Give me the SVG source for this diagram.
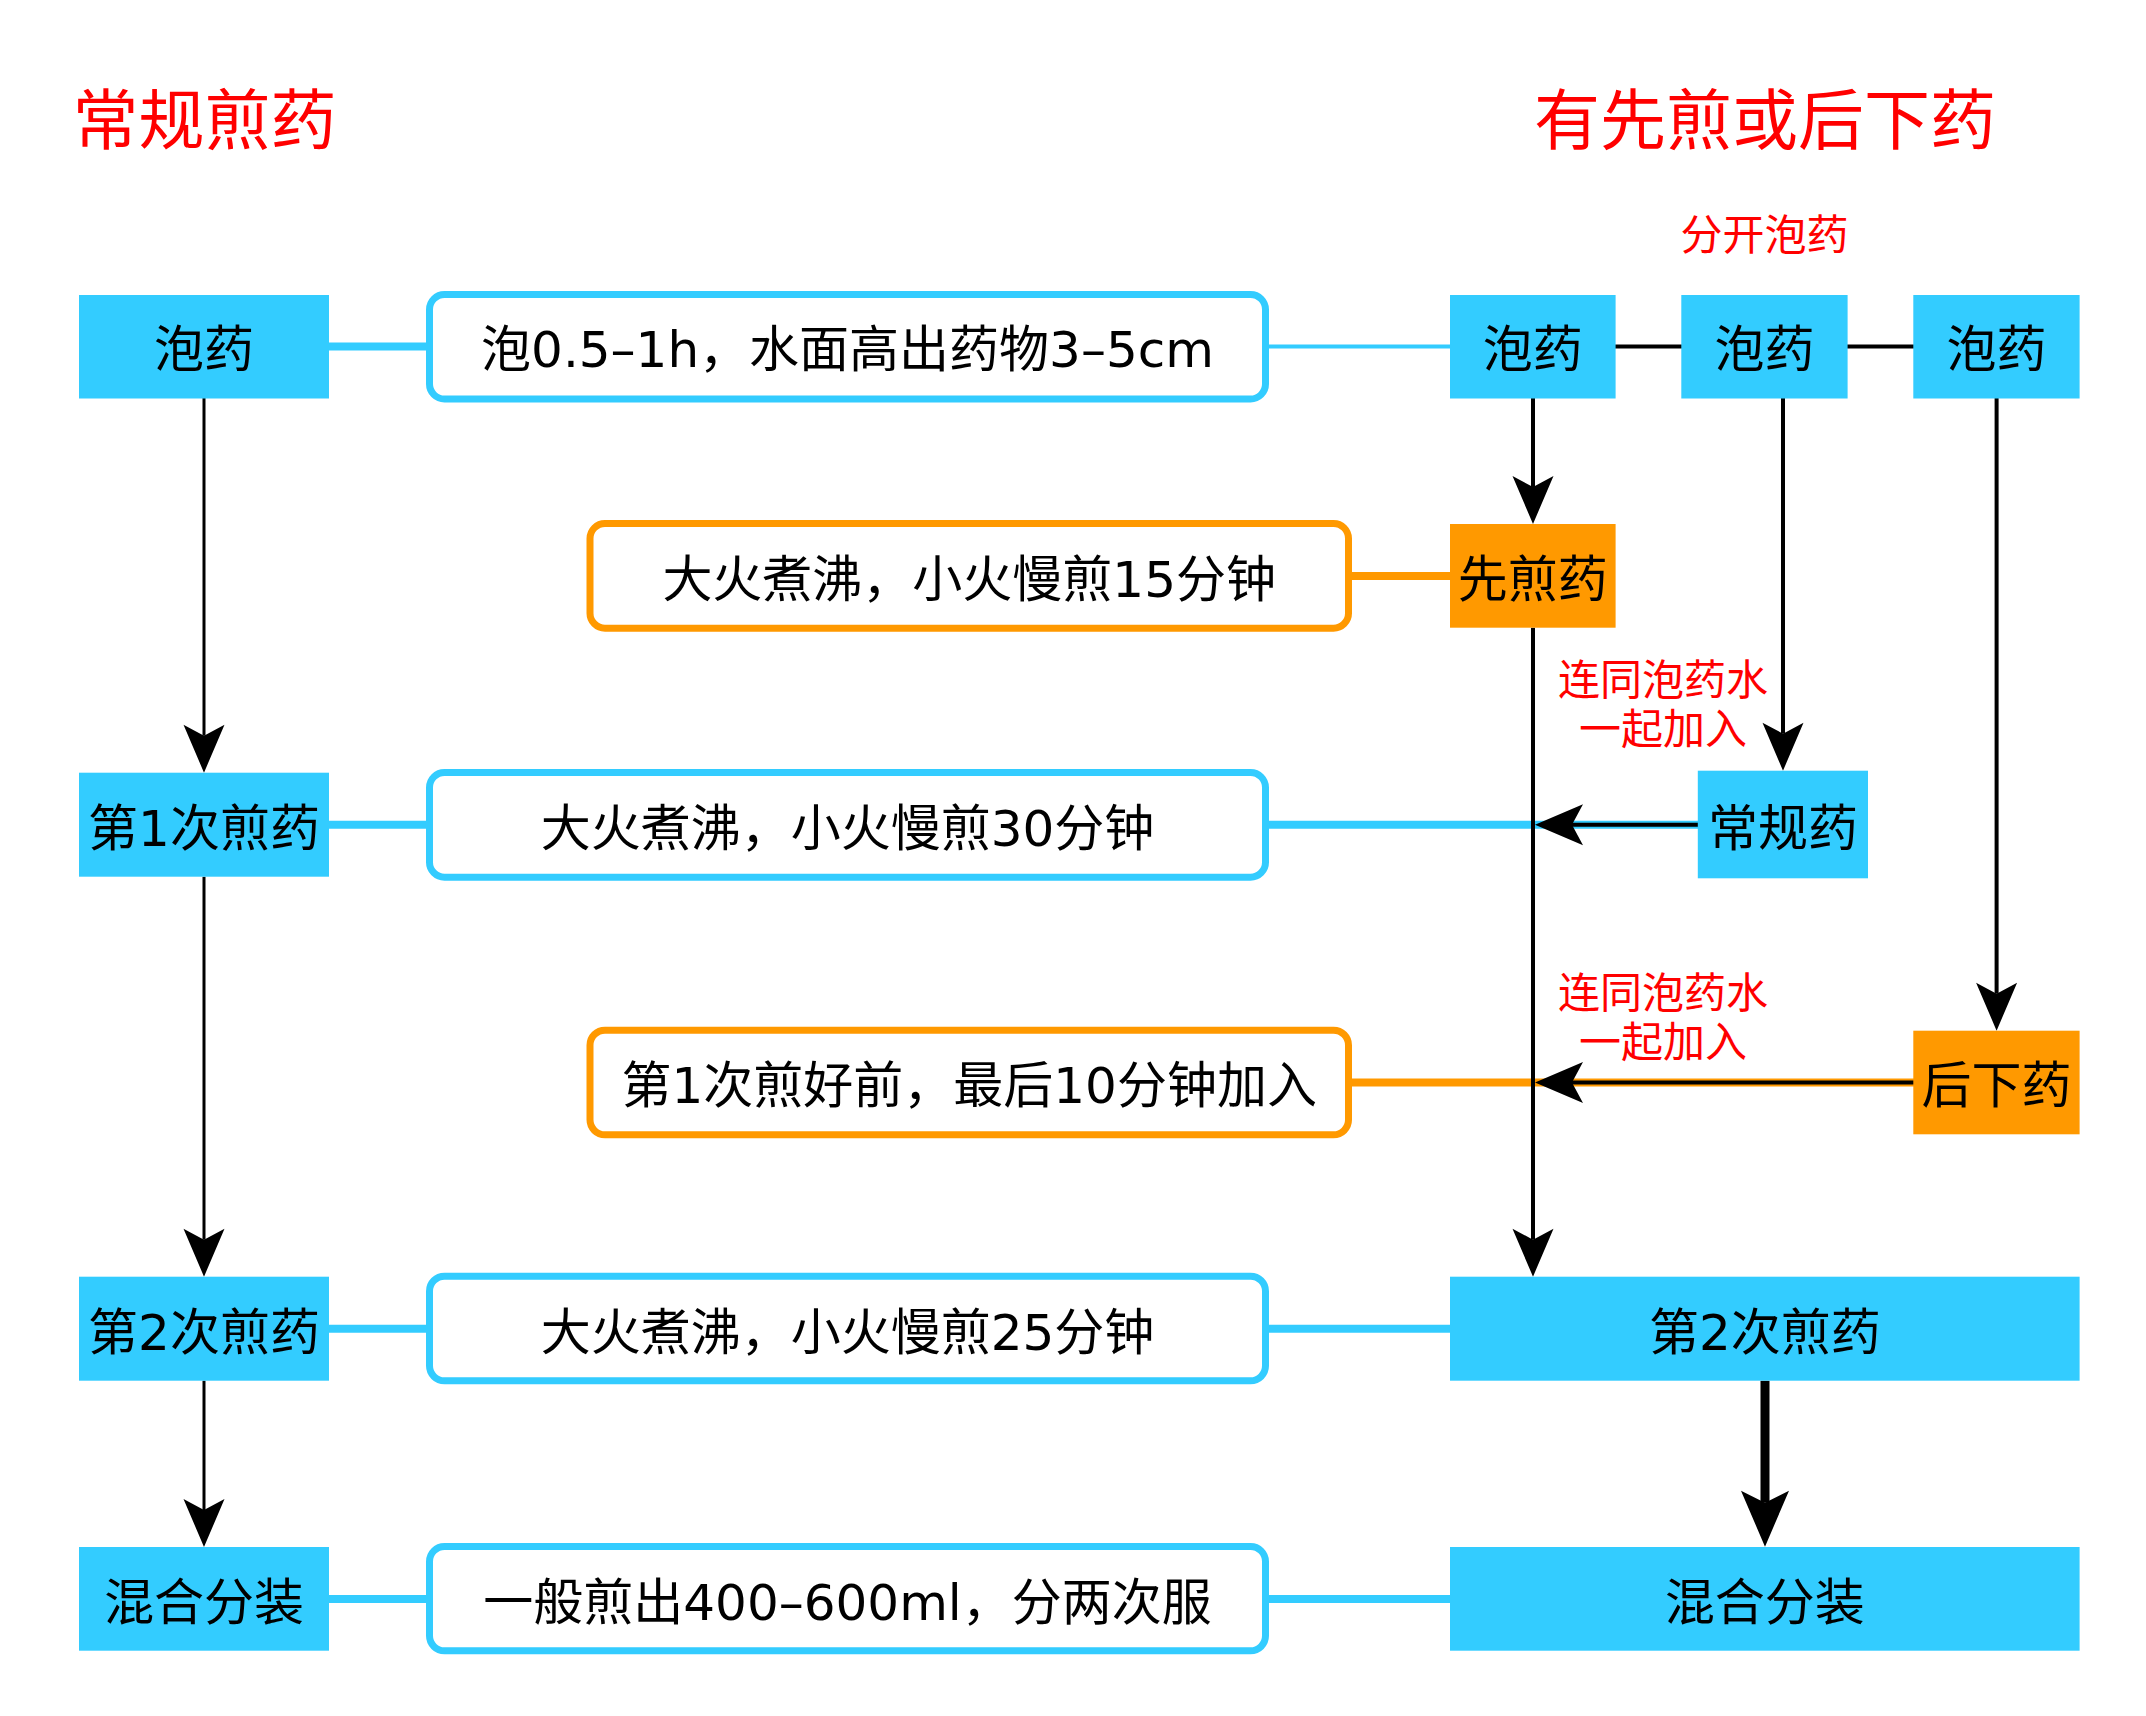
<svg xmlns="http://www.w3.org/2000/svg" width="2146" height="1716" viewBox="0 0 2146 1716">
<defs>
<style>
.bb{fill:#33CCFF}
.bo{fill:#FF9900}
.tb{fill:#FFFFFF;stroke:#33CCFF;stroke-width:7}
.to{fill:#FFFFFF;stroke:#FF9900;stroke-width:7}
.t{font-family:'DejaVu Sans','Noto Sans CJK SC',sans-serif;font-size:50px;fill:#000000;text-anchor:middle}
.title{font-family:'DejaVu Sans','Noto Sans CJK SC',sans-serif;font-size:66px;fill:#FF0000;text-anchor:middle}
.note{font-family:'DejaVu Sans','Noto Sans CJK SC',sans-serif;font-size:42px;fill:#FF0000;text-anchor:middle}
.cb{stroke:#33CCFF;stroke-width:8;fill:none}
.cbt{stroke:#33CCFF;stroke-width:4;fill:none}
.co{stroke:#FF9900;stroke-width:8;fill:none}
.k3{stroke:#000000;stroke-width:3;fill:none}
.k4{stroke:#000000;stroke-width:4;fill:none}
.k9{stroke:#000000;stroke-width:9;fill:none}
</style>
<marker id="arr" markerUnits="userSpaceOnUse" viewBox="-14 -23 54 46" markerWidth="54" markerHeight="46" refX="0" refY="0" orient="auto">
<path d="M37,0 L-11,-20.5 L0,0 L-11,20.5 Z" fill="#000000"/>
</marker>
<marker id="arrBig" markerUnits="userSpaceOnUse" viewBox="-14 -26 60 52" markerWidth="60" markerHeight="52" refX="0" refY="0" orient="auto">
<path d="M44,0 L-12,-24 L0,0 L-12,24 Z" fill="#000000"/>
</marker>
</defs>
<rect x="0" y="0" width="2146" height="1716" fill="#FFFFFF"/>

<g id="titles">
<text class="title" x="204.5" y="144.4">常规煎药</text>
<text class="title" x="1765" y="144.4">有先煎或后下药</text>
<text class="note" x="1764.5" y="249.6">分开泡药</text>
<text class="note" x="1663" y="695">连同泡药水</text>
<text class="note" x="1663" y="743.7">一起加入</text>
<text class="note" x="1663" y="1008.2">连同泡药水</text>
<text class="note" x="1663" y="1056.6">一起加入</text>
</g>

<g id="connectors">
<line class="cb" x1="329" y1="346.5" x2="430" y2="346.5"/>
<line class="cb" x1="329" y1="824.7" x2="430" y2="824.7"/>
<line class="cb" x1="329" y1="1328.7" x2="430" y2="1328.7"/>
<line class="cb" x1="329" y1="1599" x2="430" y2="1599"/>
<line class="cbt" x1="1265" y1="346.5" x2="1450" y2="346.5"/>
<line class="cb" x1="1265" y1="824.7" x2="1698" y2="824.7"/>
<line class="cb" x1="1265" y1="1328.7" x2="1450" y2="1328.7"/>
<line class="cb" x1="1265" y1="1599" x2="1450" y2="1599"/>
<line class="co" x1="1348" y1="576" x2="1450" y2="576"/>
<line class="co" x1="1348" y1="1082.5" x2="1914" y2="1082.5"/>
<line class="k4" x1="1615" y1="346.5" x2="1682" y2="346.5"/>
<line class="k4" x1="1847" y1="346.5" x2="1914" y2="346.5"/>
<line class="k3" x1="204" y1="398" x2="204" y2="735.7" marker-end="url(#arr)"/>
<line class="k3" x1="204" y1="876.7" x2="204" y2="1239.7" marker-end="url(#arr)"/>
<line class="k3" x1="204" y1="1380.7" x2="204" y2="1510" marker-end="url(#arr)"/>
<line class="k4" x1="1533" y1="398" x2="1533" y2="487" marker-end="url(#arr)"/>
<line class="k4" x1="1533" y1="627.7" x2="1533" y2="1239.7" marker-end="url(#arr)"/>
<line class="k4" x1="1783" y1="398" x2="1783" y2="733.7" marker-end="url(#arr)"/>
<line class="k4" x1="1996.6" y1="398" x2="1996.6" y2="993.7" marker-end="url(#arr)"/>
<line class="k4" x1="1698" y1="824.7" x2="1572" y2="824.7" marker-end="url(#arr)"/>
<line class="k4" x1="1914" y1="1082.5" x2="1572" y2="1082.5" marker-end="url(#arr)"/>
<line class="k9" x1="1765" y1="1380.7" x2="1765" y2="1502.7" marker-end="url(#arrBig)"/>
</g>

<g id="n-left-soak">
<rect class="bb" x="79" y="295" width="250" height="103.5"/>
<text class="t" x="204" y="367.3">泡药</text>
</g>
<g id="n-note-soak">
<rect class="tb" x="429.5" y="294.5" width="836" height="104.5" rx="15"/>
<text class="t" x="847.5" y="367.3">泡0.5–1h，水面高出药物3–5cm</text>
</g>
<g id="n-soak-a">
<rect class="bb" x="1450" y="295" width="165.6" height="103.5"/>
<text class="t" x="1532.8" y="367.3">泡药</text>
</g>
<g id="n-soak-b">
<rect class="bb" x="1681.3" y="295" width="166.3" height="103.5"/>
<text class="t" x="1764.5" y="367.3">泡药</text>
</g>
<g id="n-soak-c">
<rect class="bb" x="1913.3" y="295" width="166.3" height="103.5"/>
<text class="t" x="1996.5" y="367.3">泡药</text>
</g>

<g id="n-note-first">
<rect class="to" x="590" y="523.5" width="758.5" height="104.7" rx="15"/>
<text class="t" x="969.2" y="596.8">大火煮沸，小火慢煎15分钟</text>
</g>
<g id="n-first">
<rect class="bo" x="1450" y="524" width="165.6" height="103.7"/>
<text class="t" x="1532.8" y="596.8">先煎药</text>
</g>

<g id="n-left-boil1">
<rect class="bb" x="79" y="772.7" width="250" height="104"/>
<text class="t" x="204" y="845.5">第1次煎药</text>
</g>
<g id="n-note-boil1">
<rect class="tb" x="429.5" y="772.5" width="836" height="104.7" rx="15"/>
<text class="t" x="847.5" y="845.5">大火煮沸，小火慢煎30分钟</text>
</g>
<g id="n-regular">
<rect class="bb" x="1697.8" y="770.7" width="170.2" height="107.6"/>
<text class="t" x="1783" y="845.5">常规药</text>
</g>

<g id="n-note-last">
<rect class="to" x="590" y="1030.2" width="758.5" height="104.6" rx="15"/>
<text class="t" x="969.2" y="1103.3">第1次煎好前，最后10分钟加入</text>
</g>
<g id="n-last">
<rect class="bo" x="1913.3" y="1030.7" width="166.3" height="103.6"/>
<text class="t" x="1996.5" y="1103.3">后下药</text>
</g>

<g id="n-left-boil2">
<rect class="bb" x="79" y="1276.7" width="250" height="104"/>
<text class="t" x="204" y="1349.5">第2次煎药</text>
</g>
<g id="n-note-boil2">
<rect class="tb" x="429.5" y="1276.2" width="836" height="104.6" rx="15"/>
<text class="t" x="847.5" y="1349.5">大火煮沸，小火慢煎25分钟</text>
</g>
<g id="n-right-boil2">
<rect class="bb" x="1450" y="1276.7" width="629.6" height="104"/>
<text class="t" x="1764.8" y="1349.5">第2次煎药</text>
</g>

<g id="n-left-mix">
<rect class="bb" x="79" y="1547" width="250" height="103.7"/>
<text class="t" x="204" y="1619.8">混合分装</text>
</g>
<g id="n-note-mix">
<rect class="tb" x="429.5" y="1546.5" width="836" height="104.3" rx="15"/>
<text class="t" x="847.5" y="1619.8">一般煎出400–600ml，分两次服</text>
</g>
<g id="n-right-mix">
<rect class="bb" x="1450" y="1547" width="629.6" height="103.7"/>
<text class="t" x="1764.8" y="1619.8">混合分装</text>
</g>
</svg>
